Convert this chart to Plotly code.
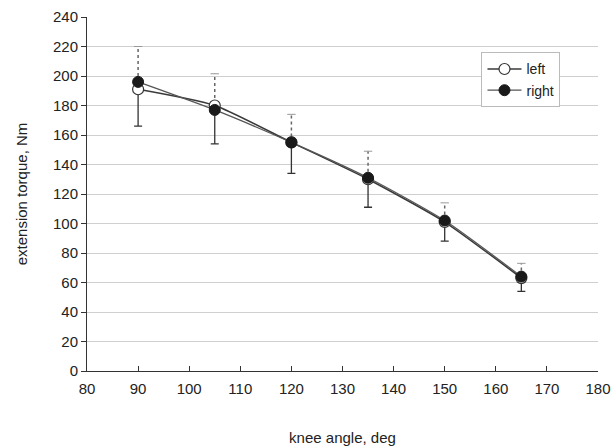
import plotly.graph_objects as go

angles = [90, 105, 120, 135, 150, 165]
left_torque = [191, 180, 155, 130, 101, 63]
left_sd = [25, 26, 21, 19, 13, 9]
right_torque = [196, 177, 155, 131, 102, 64]
right_sd = [24, 24.5, 19, 18, 12, 9]

x_ticks = list(range(80, 181, 10))
y_ticks = list(range(0, 241, 20))

font_family = "Arial, 'Liberation Sans', sans-serif"

fig = go.Figure()

# dotted upper error bars (right)
ex, ey, cx, cy = [], [], [], []
for a, v, s in zip(angles, right_torque, right_sd):
    ex += [a, a, None]
    ey += [v, v + s, None]
    cx.append(a)
    cy.append(v + s)
fig.add_trace(go.Scatter(x=ex, y=ey, mode="lines", line=dict(color="#666", width=1.5, dash="dot"),
                         showlegend=False, hoverinfo="skip"))
fig.add_trace(go.Scatter(x=cx, y=cy, mode="markers",
                         marker=dict(symbol="line-ew", size=6, line=dict(color="#999", width=1)),
                         showlegend=False, hoverinfo="skip"))

# solid lower error bars (left)
fig.add_trace(go.Scatter(x=angles, y=left_torque, mode="none", showlegend=False, hoverinfo="skip",
                         error_y=dict(type="data", symmetric=False, array=[0] * len(angles),
                                      arrayminus=left_sd, color="#333", thickness=1.3, width=4)))

fig.add_trace(go.Scatter(x=angles, y=left_torque, name="left", mode="lines+markers",
                         line=dict(color="#3a3a3a", width=1.5, shape="spline", smoothing=0.6),
                         marker=dict(symbol="circle", size=11, color="white",
                                     line=dict(color="#333", width=1.2))))
fig.add_trace(go.Scatter(x=angles, y=right_torque, name="right", mode="lines+markers",
                         line=dict(color="#555", width=1.3, shape="spline", smoothing=0.6),
                         marker=dict(symbol="circle", size=11, color="#1a1a1a",
                                     line=dict(color="#1a1a1a", width=1))))

fig.update_layout(
    width=614, height=448,
    margin=dict(l=87, r=16, t=17, b=77),
    paper_bgcolor="white", plot_bgcolor="white",
    font=dict(family=font_family, size=15, color="#222"),
    legend=dict(x=0.772, y=0.9, xanchor="left", yanchor="top",
                bgcolor="white", bordercolor="#bbb", borderwidth=1,
                font=dict(size=14, color="#222"), itemwidth=34, tracegroupgap=0),
    xaxis=dict(range=[80, 180], tickvals=x_ticks, ticktext=[str(t) for t in x_ticks],
               showgrid=False, zeroline=False, showline=True, linecolor="#333", linewidth=1,
               ticks="inside", ticklen=5, tickcolor="#333", automargin=False,
               ticklabelstandoff=4,
               title=dict(text="knee angle, deg", font=dict(size=15), standoff=36)),
    yaxis=dict(range=[0, 240], tickvals=y_ticks, ticktext=[str(t) for t in y_ticks],
               showgrid=True, gridcolor="#cfcfcf", gridwidth=1, zeroline=False,
               showline=True, linecolor="#333", linewidth=1,
               ticks="outside", ticklen=5, tickcolor="#333", automargin=False,
               title=dict(text="extension torque, Nm", font=dict(size=15), standoff=21)),
)

fig.write_html("out.html", config={"displayModeBar": False},
               post_script="document.body.style.margin='0';")
